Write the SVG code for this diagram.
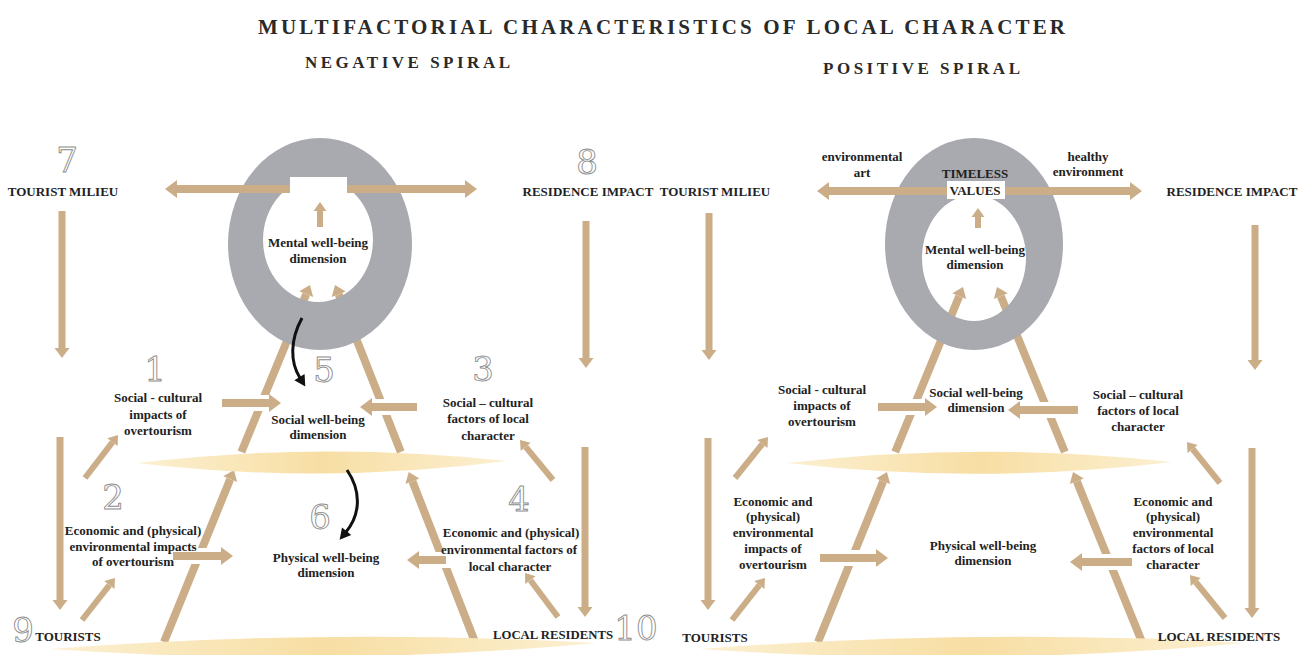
<svg xmlns="http://www.w3.org/2000/svg" width="1298" height="655" viewBox="0 0 1298 655">
<defs>
<style>
.t{font-family:"Liberation Serif","Times New Roman",serif;font-weight:bold;font-size:13px;fill:#222;text-anchor:middle}
.ttl{font-family:"Liberation Serif","Times New Roman",serif;font-weight:bold;fill:#2a2a2a}
.num{font-family:"DejaVu Serif",serif;font-size:34px;fill:#fff;stroke:#8c8c8c;stroke-width:0.9;text-anchor:middle}
.a{stroke:#cbae88;stroke-width:8;fill:none}
.v{stroke:#cbae88;stroke-width:7;fill:none}
.s{stroke:#cbae88;stroke-width:6;fill:none}
.d{stroke:#cbae88;stroke-width:8;fill:none}
.w{stroke:#fff;stroke-width:16;fill:none}
.ring{fill:#a8aab0;fill-rule:evenodd}
.band{fill:url(#bg)}
.blk{stroke:#111;stroke-width:3;fill:none}
</style>
<linearGradient id="bg" x1="0" x2="1" y1="0" y2="0">
<stop offset="0" stop-color="#fcf0d2"/>
<stop offset="0.5" stop-color="#f7dea3"/>
<stop offset="1" stop-color="#fcf0d2"/>
</linearGradient>
<marker id="h" markerUnits="userSpaceOnUse" markerWidth="13" markerHeight="18" refX="0" refY="9" orient="auto" overflow="visible"><path d="M0,0 L12,9 L0,18 Z" fill="#cbae88"/></marker>
<marker id="m" markerUnits="userSpaceOnUse" markerWidth="11" markerHeight="15" refX="0" refY="7.5" orient="auto" overflow="visible"><path d="M0,0 L10,7.5 L0,15 Z" fill="#cbae88"/></marker>
<marker id="sm" markerUnits="userSpaceOnUse" markerWidth="10" markerHeight="13" refX="0" refY="6.5" orient="auto" overflow="visible"><path d="M0,0 L9,6.5 L0,13 Z" fill="#cbae88"/></marker>
<marker id="bk" markerUnits="userSpaceOnUse" markerWidth="12" markerHeight="12" refX="0" refY="6" orient="auto" overflow="visible"><path d="M-1,0 L10,6 L-1,12 Z" fill="#111"/></marker>
</defs>
<rect width="1298" height="655" fill="#fff"/>

<g id="titles">
<text class="ttl" x="258" y="34" font-size="21" textLength="807" lengthAdjust="spacing">MULTIFACTORIAL CHARACTERISTICS OF LOCAL CHARACTER</text>
<text class="ttl" x="305" y="68" font-size="17" textLength="205" lengthAdjust="spacing">NEGATIVE SPIRAL</text>
<text class="ttl" x="823" y="74" font-size="17" textLength="197" lengthAdjust="spacing">POSITIVE SPIRAL</text>
</g>

<g id="connectors">
<line class="d" x1="164" y1="642" x2="230.2" y2="479.2" marker-end="url(#m)"/>
<line class="d" x1="241.4" y1="452" x2="306.2" y2="294.2" marker-end="url(#m)"/>
<line class="d" x1="475" y1="642" x2="412.4" y2="481.3" marker-end="url(#m)"/>
<line class="d" x1="400.8" y1="452" x2="338.7" y2="294.3" marker-end="url(#m)"/>
<line class="d" x1="818" y1="642" x2="883.2" y2="481.3" marker-end="url(#m)"/>
<line class="d" x1="895.2" y1="452" x2="959.2" y2="296.2" marker-end="url(#m)"/>
<line class="d" x1="1142" y1="642" x2="1076.8" y2="481.3" marker-end="url(#m)"/>
<line class="d" x1="1064.8" y1="452" x2="1000.8" y2="296.2" marker-end="url(#m)"/>
<line class="w" x1="245" y1="403" x2="275" y2="403"/>
<line class="w" x1="368" y1="407" x2="398" y2="407"/>
<line class="w" x1="185" y1="556" x2="215" y2="556"/>
<line class="w" x1="425" y1="560" x2="455" y2="560"/>
<line class="w" x1="898" y1="407" x2="928" y2="407"/>
<line class="w" x1="1032" y1="410" x2="1062" y2="410"/>
<line class="w" x1="836" y1="558" x2="866" y2="558"/>
<line class="w" x1="1094" y1="562" x2="1124" y2="562"/>
<line class="a" x1="222" y1="403" x2="269" y2="403" marker-end="url(#h)"/>
<line class="a" x1="417" y1="407" x2="372" y2="407" marker-end="url(#h)"/>
<line class="a" x1="173" y1="556" x2="221" y2="556" marker-end="url(#h)"/>
<line class="a" x1="446" y1="560" x2="419" y2="560" marker-end="url(#h)"/>
<line class="a" x1="878" y1="407" x2="925" y2="407" marker-end="url(#h)"/>
<line class="a" x1="1078" y1="410" x2="1020" y2="410" marker-end="url(#h)"/>
<line class="a" x1="820" y1="558" x2="876" y2="558" marker-end="url(#h)"/>
<line class="a" x1="1132" y1="562" x2="1082" y2="562" marker-end="url(#h)"/>
<line class="v" x1="62" y1="211" x2="62" y2="348" marker-end="url(#m)"/>
<line class="v" x1="60" y1="437" x2="60" y2="600" marker-end="url(#m)"/>
<line class="v" x1="586" y1="221" x2="586" y2="358" marker-end="url(#m)"/>
<line class="v" x1="585" y1="447" x2="585" y2="607" marker-end="url(#m)"/>
<line class="v" x1="709" y1="213" x2="709" y2="350" marker-end="url(#m)"/>
<line class="v" x1="708" y1="438" x2="708" y2="600" marker-end="url(#m)"/>
<line class="v" x1="1255" y1="225" x2="1255" y2="360" marker-end="url(#m)"/>
<line class="v" x1="1252" y1="448" x2="1252" y2="608" marker-end="url(#m)"/>
<line class="s" x1="85" y1="478" x2="112.5" y2="442.1" marker-end="url(#sm)"/>
<line class="s" x1="82" y1="620" x2="109.4" y2="585.1" marker-end="url(#sm)"/>
<line class="s" x1="553" y1="480" x2="525.7" y2="446.9" marker-end="url(#sm)"/>
<line class="s" x1="558" y1="617" x2="530.4" y2="580.2" marker-end="url(#sm)"/>
<line class="s" x1="735" y1="478" x2="762.4" y2="444" marker-end="url(#sm)"/>
<line class="s" x1="732" y1="620" x2="759.4" y2="585.1" marker-end="url(#sm)"/>
<line class="s" x1="1220" y1="483" x2="1192.6" y2="449" marker-end="url(#sm)"/>
<line class="s" x1="1225" y1="618" x2="1195.7" y2="582" marker-end="url(#sm)"/>
</g>

<g id="bands">
<path class="band" d="M137,463 Q322,441 507,461 Q322,485 137,463 Z"/>
<path class="band" d="M50,649 Q322,628 597,643 Q322,668 50,649 Z"/>
<path class="band" d="M787,463 Q980,441 1172,462 Q980,485 787,463 Z"/>
<path class="band" d="M700,649 Q975,628 1245,643 Q975,668 700,649 Z"/>
</g>

<g id="ring-left">
<path class="ring" d="M228,244 A92,106 0 1,0 412,244 A92,106 0 1,0 228,244 Z M263,240 A55,62 0 1,0 373,240 A55,62 0 1,0 263,240 Z"/>
<rect x="290" y="177" width="57" height="19" fill="#fff"/>
<line class="a" x1="290" y1="189" x2="177" y2="189" marker-end="url(#h)"/>
<line class="a" x1="347" y1="189" x2="465" y2="189" marker-end="url(#h)"/>
<line class="s" x1="320" y1="227" x2="320" y2="211" marker-end="url(#sm)"/>
<text class="t" x="318" y="247">Mental well-being</text>
<text class="t" x="318" y="263">dimension</text>
</g>

<g id="ring-right">
<path class="ring" d="M885,244 A89,106 0 1,0 1063,244 A89,106 0 1,0 885,244 Z M922,258 A52,63 0 1,0 1026,258 A52,63 0 1,0 922,258 Z"/>
<rect x="947" y="181" width="58" height="18" fill="#fff"/>
<line class="a" x1="947" y1="191" x2="829" y2="191" marker-end="url(#h)"/>
<line class="a" x1="1005" y1="191" x2="1130" y2="191" marker-end="url(#h)"/>
<line class="s" x1="978" y1="228" x2="978" y2="217" marker-end="url(#sm)"/>
<text class="t" x="975" y="178">TIMELESS</text>
<text class="t" x="975" y="195">VALUES</text>
<text class="t" x="975" y="254">Mental well-being</text>
<text class="t" x="975" y="269">dimension</text>
<text class="t" x="862" y="161">environmental</text>
<text class="t" x="862" y="177">art</text>
<text class="t" x="1088" y="161">healthy</text>
<text class="t" x="1088" y="176">environment</text>
</g>

<g id="black-arrows">
<path class="blk" d="M302,318 C290,340 290,362 300,378" marker-end="url(#bk)"/>
<path class="blk" d="M347,470 C362,492 360,515 346,532" marker-end="url(#bk)"/>
</g>

<g id="numbers">
<text class="num" x="67" y="172">7</text>
<text class="num" x="587" y="174">8</text>
<text class="num" x="155" y="381">1</text>
<text class="num" x="324" y="382">5</text>
<text class="num" x="483" y="381">3</text>
<text class="num" x="113" y="509">2</text>
<text class="num" x="320" y="529">6</text>
<text class="num" x="519" y="511">4</text>
<text class="num" x="23" y="642">9</text>
<text class="num" x="636" y="640">10</text>
</g>

<g id="left-labels">
<text class="t" x="63" y="196">TOURIST MILIEU</text>
<text class="t" x="588" y="196">RESIDENCE IMPACT</text>
<text class="t" x="158" y="402">Social - cultural</text>
<text class="t" x="158" y="419">impacts of</text>
<text class="t" x="158" y="435">overtourism</text>
<text class="t" x="318" y="424">Social well-being</text>
<text class="t" x="318" y="439">dimension</text>
<text class="t" x="488" y="407">Social – cultural</text>
<text class="t" x="488" y="423">factors of local</text>
<text class="t" x="488" y="440">character</text>
<text class="t" x="133" y="535">Economic and (physical)</text>
<text class="t" x="133" y="551">environmental impacts</text>
<text class="t" x="133" y="566">of overtourism</text>
<text class="t" x="326" y="562">Physical well-being</text>
<text class="t" x="326" y="577">dimension</text>
<text class="t" x="511" y="537">Economic and (physical)</text>
<text class="t" x="509" y="554">environmental factors of</text>
<text class="t" x="510" y="571">local character</text>
<text class="t" x="68" y="641">TOURISTS</text>
<text class="t" x="553" y="639" textLength="120" lengthAdjust="spacingAndGlyphs">LOCAL RESIDENTS</text>
</g>

<g id="right-labels">
<text class="t" x="715" y="196">TOURIST MILIEU</text>
<text class="t" x="1232" y="196">RESIDENCE IMPACT</text>
<text class="t" x="822" y="394">Social - cultural</text>
<text class="t" x="822" y="410">impacts of</text>
<text class="t" x="822" y="426">overtourism</text>
<text class="t" x="976" y="397">Social well-being</text>
<text class="t" x="976" y="412">dimension</text>
<text class="t" x="1138" y="399">Social – cultural</text>
<text class="t" x="1138" y="415">factors of local</text>
<text class="t" x="1138" y="431">character</text>
<text class="t" x="773" y="506">Economic and</text>
<text class="t" x="773" y="521">(physical)</text>
<text class="t" x="773" y="537">environmental</text>
<text class="t" x="773" y="553">impacts of</text>
<text class="t" x="773" y="569">overtourism</text>
<text class="t" x="983" y="550">Physical well-being</text>
<text class="t" x="983" y="565">dimension</text>
<text class="t" x="1173" y="506">Economic and</text>
<text class="t" x="1173" y="521">(physical)</text>
<text class="t" x="1173" y="537">environmental</text>
<text class="t" x="1173" y="553">factors of local</text>
<text class="t" x="1173" y="569">character</text>
<text class="t" x="715" y="642">TOURISTS</text>
<text class="t" x="1219" y="641">LOCAL RESIDENTS</text>
</g>
</svg>
